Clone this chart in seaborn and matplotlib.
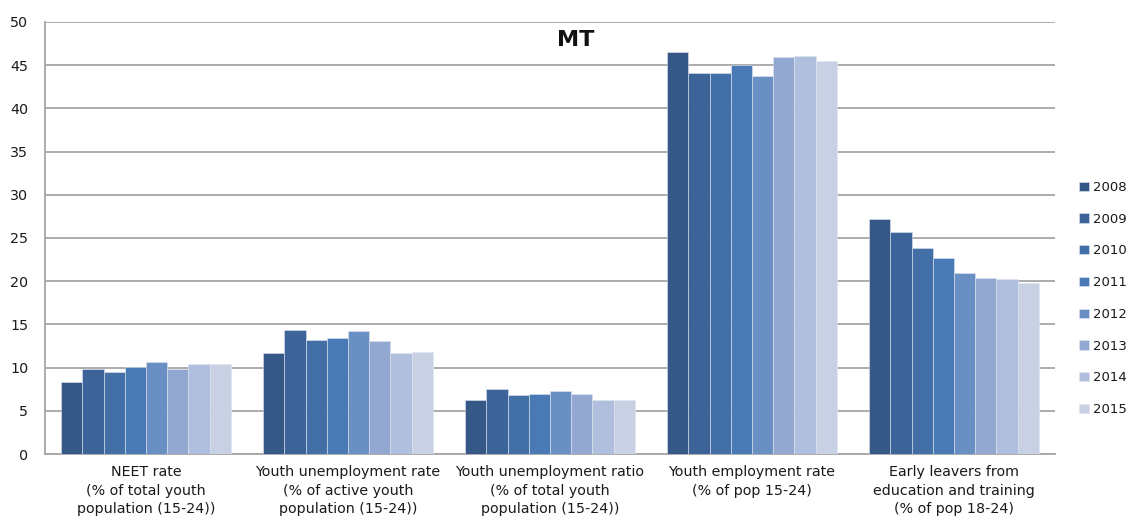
import numpy as np
import pandas as pd
import matplotlib
matplotlib.use("Agg")
import matplotlib.pyplot as plt
import seaborn as sns
from matplotlib.ticker import MultipleLocator, FixedLocator

indicators = [
    "NEET rate\n(% of total youth\npopulation (15-24))",
    "Youth unemployment rate\n(% of active youth\npopulation (15-24))",
    "Youth unemployment ratio\n(% of total youth\npopulation (15-24))",
    "Youth employment rate\n(% of pop 15-24)",
    "Early leavers from\neducation and training\n(% of pop 18-24)",
]
years = ["2008", "2009", "2010", "2011", "2012", "2013", "2014", "2015"]

neet = [8.3, 9.8, 9.5, 10.1, 10.6, 9.8, 10.45, 10.45]
unemp_rate = [11.7, 14.4, 13.2, 13.4, 14.2, 13.1, 11.7, 11.8]
unemp_ratio = [6.2, 7.55, 6.8, 6.9, 7.25, 6.9, 6.2, 6.2]
emp_rate = [46.5, 44.1, 44.1, 45.0, 43.8, 45.9, 46.1, 45.5]
early_leavers = [27.2, 25.7, 23.8, 22.7, 21.0, 20.4, 20.3, 19.8]

colors = ["#355886", "#3c6498", "#4270a6", "#497ab5",
          "#6a8fc3", "#93a8d0", "#b0bfdd", "#c8d0e4"]

series = [neet, unemp_rate, unemp_ratio, emp_rate, early_leavers]
df = pd.DataFrame(
    [(ind, yr, vals[j]) for ind, vals in zip(indicators, series)
     for j, yr in enumerate(years)],
    columns=["indicator", "year", "value"],
)

sns.set_style("white")
plt.rcParams["font.family"] = ["DejaVu Sans"]

fig = plt.figure(figsize=(11.33, 5.31), dpi=100)
ax = fig.add_axes([0.0397, 0.145, 0.8915, 0.8137])

sns.barplot(data=df, x="indicator", y="value", hue="year", order=indicators,
            hue_order=years, palette=colors, width=0.84, ax=ax,
            errorbar=None, saturation=1, edgecolor="#dfe5ef", linewidth=0.4,
            zorder=3)

ax.set_ylim(0, 50)
ax.set_xlim(-0.5, 4.5)
ax.yaxis.set_major_locator(MultipleLocator(5))
ax.yaxis.grid(True, color="#a6a6a6", linewidth=1.3, zorder=0)
ax.set_axisbelow(True)

for s in ["top", "right"]:
    ax.spines[s].set_visible(False)
for s in ["left", "bottom"]:
    ax.spines[s].set_color("#a6a6a6")
    ax.spines[s].set_linewidth(1.3)

ax.tick_params(axis="x", which="major", length=0, pad=8, labelsize=10.3,
               colors="#1a1a1a")
ax.xaxis.set_minor_locator(FixedLocator(np.arange(-0.5, 5, 1.0)))
ax.tick_params(axis="x", which="minor", length=6, color="#a6a6a6", width=1.3,
               direction="out")
ax.tick_params(axis="y", length=6, color="#a6a6a6", width=1.3, labelsize=10.3,
               colors="#1a1a1a", pad=6)
for lab in ax.get_xticklabels():
    lab.set_verticalalignment("top")
    lab.set_linespacing(1.42)

ax.set_xlabel("")
ax.set_ylabel("")

fig.text(0.508, 0.925, "MT", ha="center", va="center", fontsize=16,
         fontweight="bold", color="#111111")

leg = ax.legend(loc="center left", bbox_to_anchor=(1.015, 0.36), frameon=False,
                fontsize=9.5, handlelength=0.7, handleheight=0.7,
                handletextpad=0.35, labelspacing=1.42, borderaxespad=0.3)
for t in leg.get_texts():
    t.set_color("#1a1a1a")

fig.savefig("out.png", dpi=100)
